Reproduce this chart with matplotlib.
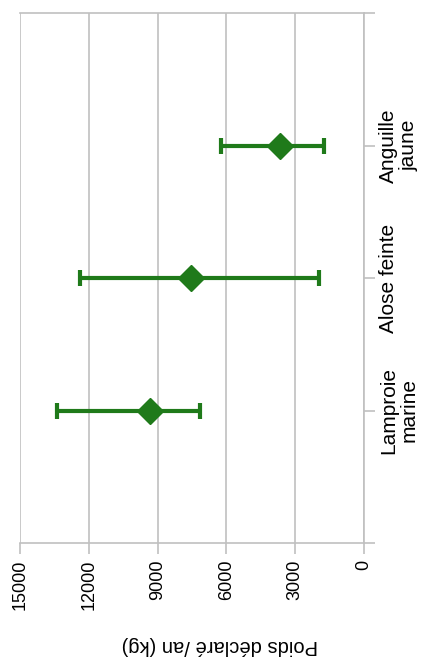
import matplotlib
matplotlib.use('Agg')
from matplotlib import pyplot as plt
import numpy as np

plt.rcParams['font.family'] = ['Liberation Sans', 'DejaVu Sans']

# data (kg declared per year)
especes = ['Lamproie\nmarine', 'Alose feinte', 'Anguille\njaune']
moyenne = [9330, 7550, 3670]
mini = [7150, 1960, 1750]
maxi = [13390, 12390, 6240]
graduations = [15000, 12000, 9000, 6000, 3000, 0]

vert = '#1f7a1a'
gris = '#c0c0c0'

fig = plt.figure(figsize=(4.28, 6.57), dpi=100)
ax = fig.add_axes([20/428, (657-543)/657, 344/428, 530/657])

pos = np.arange(1, len(especes) + 1)
moy = np.array(moyenne)
err = [moy - np.array(mini), np.array(maxi) - moy]
ax.errorbar(moy, pos, xerr=err, fmt='D', color=vert, ms=13, lw=3,
            capsize=5.5, capthick=3, zorder=3)

ax.set_xlim(15000, 0)
ax.set_ylim(0, len(especes) + 1)
ax.set_xticks(graduations)
ax.set_xticklabels([str(g) for g in graduations], rotation=90, fontsize=13, va='top')
ax.grid(axis='x', color=gris, lw=1.2)
ax.set_axisbelow(True)

ax.yaxis.tick_right()
ax.set_yticks(list(pos) + [0, len(especes) + 1])
ax.set_yticklabels(especes + ['', ''], rotation=90, fontsize=15, va='center',
                   ha='left', ma='center', linespacing=1.1)

ax.spines['left'].set_visible(False)
for s in ['top', 'bottom', 'right']:
    ax.spines[s].set_color(gris)
    ax.spines[s].set_linewidth(1.2)
ax.tick_params(axis='x', length=8, color=gris, width=1.2, pad=4)
ax.tick_params(axis='y', length=8, color=gris, width=1.2, pad=3)

# axis title, upside down like the rest of the rotated chart
fig.text(220/428, 1 - 645/657, 'Poids déclaré /an (kg)', rotation=180,
         fontsize=14.5, ha='center', va='center')

fig.savefig('out.png', dpi=100)
